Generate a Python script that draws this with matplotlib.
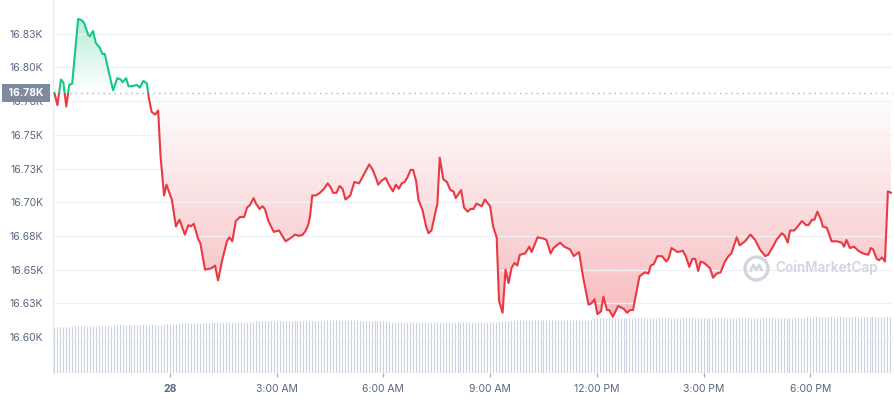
import numpy as np
from datetime import datetime, timedelta
from matplotlib import pyplot as plt, dates as mdates, colors as mcolors
from matplotlib.patches import Rectangle
from matplotlib.path import Path
from matplotlib.transforms import blended_transform_factory

plt.rcParams['font.family'] = ['Inter', 'DejaVu Sans']

# Colors
GREEN = '#16c784'
RED = '#ea3943'
GRIDCOLOR = '#eff2f5'
TEXTCOLOR = '#58667e'
VOLCOLOR = '#cbd2df'
REFBOX = '#808a9d'
WATERMARK = '#d0d5de'
FONTSIZE = 7.5

# Data: price every few minutes after START (USD)
START = datetime(2022, 11, 27, 20, 45)
REF_PRICE = 16781  # opening price, dotted line

minutes = [
    0, 5, 11, 15, 20, 25, 30, 40, 46, 50,
    57, 60, 65, 70, 76, 81, 85, 92, 99, 106,
    112, 115, 121, 125, 130, 139, 144, 150, 156, 159,
    164, 170, 175, 179, 185, 189, 198, 205, 211, 220,
    226, 230, 235, 243, 246, 254, 265, 271, 276, 283,
    291, 295, 300, 306, 313, 320, 325, 330, 336, 340,
    346, 351, 355, 361, 370, 379, 383, 390, 397, 406,
    413, 419, 424, 428, 431, 435, 441, 448, 455, 461,
    466, 470, 476, 481, 486, 491, 499, 506, 514, 520,
    525, 531, 537, 544, 546, 552, 559, 563, 571, 576,
    581, 586, 591, 595, 601, 605, 610, 614, 621, 627,
    631, 636, 646, 650, 656, 662, 668, 673, 677, 686,
    691, 697, 702, 707, 712, 721, 726, 735, 740, 746,
    750, 756, 761, 766, 771, 776, 781, 785, 794, 801,
    805, 815, 825, 830, 837, 842, 853, 860, 870, 876,
    885, 892, 901, 906, 911, 916, 922, 926, 932, 936,
    942, 951, 960, 966, 971, 976, 987, 996, 1002, 1006,
    1011, 1017, 1025, 1032, 1036, 1041, 1051, 1060, 1065, 1071,
    1076, 1081, 1086, 1090, 1096, 1101, 1106, 1111, 1117, 1124,
    1131, 1137, 1142, 1151, 1156, 1165, 1174, 1182, 1190, 1199,
    1204, 1212, 1218, 1227, 1232, 1237, 1241, 1248, 1252, 1261,
    1268, 1272, 1278, 1282, 1287, 1293, 1296, 1303, 1311, 1320,
    1328, 1332, 1336, 1342, 1349, 1356, 1364, 1373, 1377, 1381,
    1387, 1391, 1396, 1401, 1406, 1411]

prices = [
    16781, 16772, 16791, 16789, 16771, 16787, 16788, 16836, 16835, 16833,
    16824, 16823, 16827, 16818, 16815, 16810, 16810, 16796, 16783, 16792,
    16791, 16789, 16792, 16786, 16786, 16787, 16785, 16790, 16788, 16778,
    16767, 16765, 16768, 16734, 16705, 16713, 16702, 16682, 16687, 16676,
    16683, 16682, 16684, 16672, 16670, 16650, 16651, 16653, 16642, 16657,
    16671, 16674, 16671, 16686, 16689, 16689, 16696, 16698, 16703, 16699,
    16695, 16697, 16695, 16686, 16678, 16679, 16676, 16671, 16673, 16676,
    16675, 16676, 16679, 16683, 16689, 16705, 16705, 16707, 16710, 16714,
    16711, 16707, 16707, 16712, 16710, 16702, 16705, 16715, 16714, 16719,
    16723, 16728, 16724, 16716, 16713, 16716, 16718, 16714, 16708, 16713,
    16710, 16714, 16715, 16718, 16724, 16724, 16716, 16702, 16694, 16682,
    16677, 16679, 16699, 16733, 16717, 16715, 16709, 16708, 16703, 16709,
    16696, 16693, 16695, 16695, 16699, 16697, 16702, 16697, 16682, 16674,
    16627, 16618, 16650, 16640, 16651, 16655, 16653, 16661, 16662, 16667,
    16663, 16674, 16673, 16672, 16662, 16666, 16670, 16667, 16665, 16660,
    16663, 16644, 16624, 16625, 16628, 16617, 16619, 16630, 16620, 16620,
    16615, 16623, 16621, 16618, 16620, 16620, 16645, 16648, 16647, 16653,
    16654, 16660, 16660, 16656, 16658, 16666, 16663, 16664, 16660, 16652,
    16658, 16658, 16649, 16656, 16655, 16653, 16651, 16644, 16647, 16648,
    16656, 16660, 16662, 16674, 16668, 16671, 16676, 16672, 16665, 16660,
    16661, 16667, 16672, 16677, 16675, 16670, 16679, 16679, 16681, 16686,
    16683, 16683, 16687, 16687, 16693, 16687, 16682, 16681, 16671, 16671,
    16670, 16667, 16672, 16666, 16667, 16664, 16662, 16661, 16666, 16665,
    16658, 16657, 16659, 16656, 16708, 16707]

# Volume: one bar per 5 minutes, run-length encoded (level in $B, number of bars)
VOL_MAX = 100  # volume scale top
vol_levels = [12.2, 12.5, 12.8, 12.9, 13.2, 13.5, 13.8, 13.8, 14.0, 14.3,
              14.0, 13.6, 13.9, 14.3, 14.7, 14.9]
vol_counts = [7, 13, 14, 3, 6, 11, 9, 5, 23, 12, 10, 37, 5, 27, 72, 29]
VOL_STEP = 5  # minutes

y_ticks = [16600, 16625, 16650, 16675, 16700, 16725, 16750, 16775, 16800, 16825]
x_tick_times = [datetime(2022, 11, 28, h) for h in (0, 3, 6, 9, 12, 15, 18)]
x_tick_labels = ['28', '3:00 AM', '6:00 AM', '9:00 AM', '12:00 PM', '3:00 PM', '6:00 PM']

# Limits
x_min = mdates.date2num(START - timedelta(minutes=2.4))
x_max = mdates.date2num(START + timedelta(minutes=1414.6))
Y_MIN, Y_MAX = 16573.3, 16850


def kLabel(v):
    # round half up like the site does (16625 -> 16.63K)
    return f"{np.floor(v / 10 + 0.5) / 100:.2f}K"


def gradientFill(ax, color, clip, extent, alpha_bottom, alpha_top):
    rgba = np.zeros((256, 1, 4))
    rgba[..., :3] = mcolors.to_rgb(color)
    rgba[:, 0, 3] = np.linspace(alpha_bottom, alpha_top, 256)
    im = ax.imshow(rgba, extent=extent, origin='lower', aspect='auto',
                   interpolation='bilinear', zorder=0.4)
    im.set_clip_path(clip, transform=ax.transData)


t = mdates.date2num([START + timedelta(minutes=m) for m in minutes])
p = np.array(prices, dtype=float)

fig = plt.figure(figsize=(8.94, 4.0), dpi=100)
ax = fig.add_axes([53 / 894, 27 / 400, 840 / 894, 373 / 400])

# Volume bars at the bottom
vol = np.repeat(vol_levels, vol_counts)
vol_t = mdates.date2num([START + timedelta(minutes=VOL_STEP * i) for i in range(len(vol))])
ax.vlines(vol_t, 0, vol / VOL_MAX, transform=ax.get_xaxis_transform(),
          colors=VOLCOLOR, lw=0.8, zorder=0.3)

# Gradient area between the price and the reference line
area = ax.fill_between(t, p, REF_PRICE, facecolor='none', edgecolor='none')
areaPath = Path.make_compound_path(*area.get_paths())
gradientFill(ax, GREEN, areaPath, [x_min, x_max, REF_PRICE, p.max()], 0.0, 0.32)
gradientFill(ax, RED, areaPath, [x_min, x_max, p.min(), REF_PRICE], 0.34, 0.0)

# Price line: green above the reference, red below
for color, lo, hi in [(GREEN, REF_PRICE, Y_MAX + 100), (RED, Y_MIN - 100, REF_PRICE)]:
    line, = ax.plot(t, p, color=color, lw=1.5, zorder=3, solid_joinstyle='round')
    line.set_clip_path(Rectangle((x_min - 1, lo), x_max - x_min + 2, hi - lo,
                                 transform=ax.transData))

ax.axhline(REF_PRICE, color='#a6b0c3', lw=1, ls=(0, (1, 3)), zorder=2)

# Axes formatting
ax.set_xlim(x_min, x_max)
ax.set_ylim(Y_MIN, Y_MAX)
ax.set_yticks(y_ticks, [kLabel(v) for v in y_ticks])
ax.set_xticks(mdates.date2num(x_tick_times), x_tick_labels)
ax.get_xticklabels()[0].set_fontweight('bold')
ax.yaxis.grid(True, color=GRIDCOLOR, lw=1)
ax.set_axisbelow(True)
for side in ['top', 'right', 'bottom']:
    ax.spines[side].set_visible(False)
ax.spines['left'].set_color('#e6e9ee')
ax.tick_params(axis='y', length=0, pad=7, labelsize=FONTSIZE, labelcolor=TEXTCOLOR)
ax.tick_params(axis='x', length=3, width=1, color='#a6b0c3', pad=5,
               labelsize=FONTSIZE, labelcolor=TEXTCOLOR)

# Reference price tag on the y axis
tagTrans = blended_transform_factory(ax.transAxes, ax.transData)
ax.text(-27 / 840, REF_PRICE, ' ' + kLabel(REF_PRICE) + ' ', transform=tagTrans,
        ha='center', va='center', color='white', fontsize=FONTSIZE, weight='bold',
        bbox=dict(boxstyle='square,pad=0.42', fc=REFBOX, ec='none'),
        zorder=5, clip_on=False)

# Watermark
ax.plot([0.8365], [0.2807], marker='o', ms=16.5, mfc='none', mec=WATERMARK, mew=2.4,
        transform=ax.transAxes, zorder=1)
wave = Path([(-0.6, -0.3), (-0.3, 0.35), (0.0, -0.15), (0.25, 0.35), (0.55, -0.25)])
ax.plot([0.8365], [0.2807], marker=wave, ms=9, mfc='none', mec=WATERMARK, mew=1.9,
        transform=ax.transAxes, zorder=1)
ax.text(0.8595, 0.281, 'CoinMarketCap', transform=ax.transAxes, ha='left', va='center',
        fontsize=9.8, weight='semibold', color=WATERMARK, zorder=1)

fig.savefig('out.png', dpi=100)
